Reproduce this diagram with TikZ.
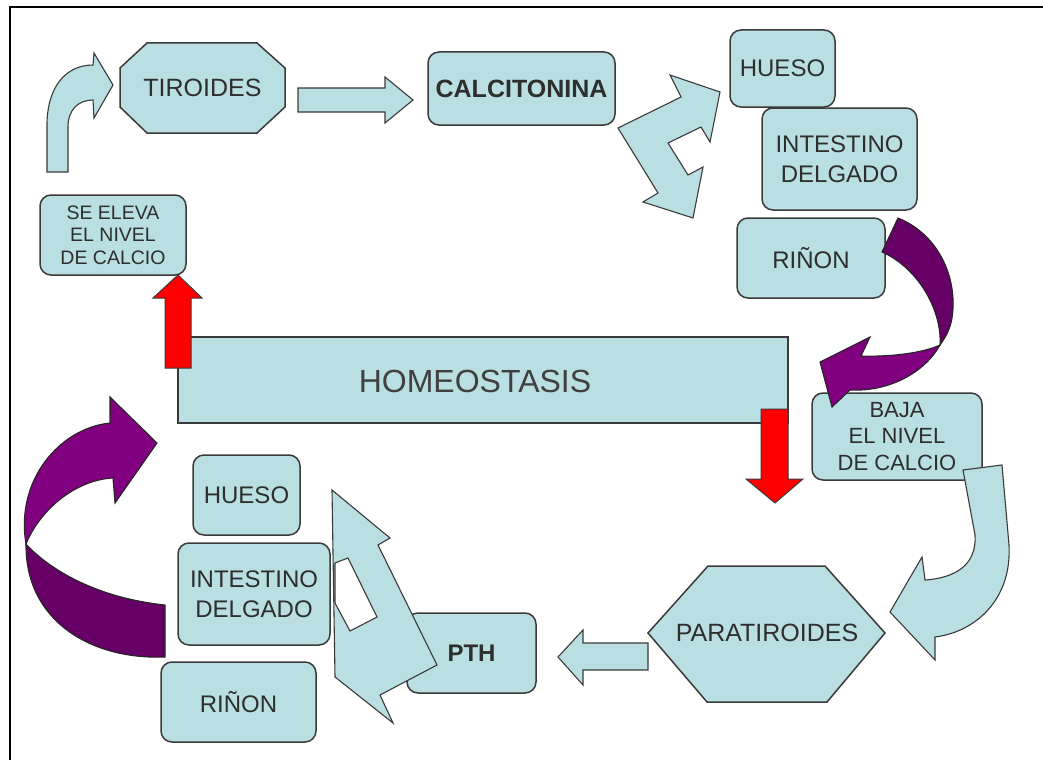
\documentclass[tikz,border=0pt]{standalone}
\usepackage{fontspec}
\setmainfont{Liberation Sans}
\definecolor{boxc}{HTML}{B9DFE3}
\definecolor{edgec}{HTML}{3A3A3A}
\definecolor{txtc}{HTML}{2E2E2E}
\definecolor{purl}{HTML}{800080}
\definecolor{purd}{HTML}{660066}
\definecolor{redc}{HTML}{FF0000}
\tikzset{
  box/.style={draw=edgec, line width=1.5pt, fill=boxc, rounded corners=11pt, text=txtc,
    align=center, inner sep=0pt, font=\fontsize{24}{30}\selectfont},
  blk/.style={draw=edgec, line width=1.1pt, fill=boxc, line join=miter},
  purA/.style={draw=black!85, line width=1.1pt, fill=purl},
  purB/.style={draw=black!85, line width=1.1pt, fill=purd},
  redar/.style={draw=edgec, line width=1pt, fill=redc},
  lbl/.style={text=txtc, align=center, inner sep=0pt, font=\fontsize{24}{30}\selectfont}
}
\begin{document}
\begin{tikzpicture}[x=1pt,y=-1pt]
\useasboundingbox (0,0) rectangle (1043,760);
% frame
\draw[line width=1.8pt, black] (10,760) -- (10,7) -- (1043,7);

% top-left bent arrow
\draw[blk] (47,172) -- (47,125) .. controls (47,88) and (65,65) .. (93,65) -- (94,53) -- (113,85)
  -- (94,118) -- (93,100) .. controls (78,100) and (68,110) .. (68,127) -- (68,172) -- cycle;

% TIROIDES octagon
\draw[blk, line width=1.5pt] (147,43) -- (257,43) -- (285,68) -- (285,107) -- (257,133)
  -- (147,133) -- (120,107) -- (120,68) -- cycle;
\node[lbl, font=\fontsize{25}{30}\selectfont] (tir) at (202.5,88) {TIROIDES};

% straight arrow to calcitonina
\draw[blk] (298,88) -- (385,88) -- (385,77) -- (413,100) -- (385,123) -- (385,112) -- (298,112) -- cycle;

\node[box, minimum width=187pt, minimum height=73pt, font=\bfseries\fontsize{25}{30}\selectfont] (calc) at (521.5,88.5) {CALCITONINA};

% zigzag double arrow
\draw[blk] (618,128) -- (681,97) -- (670,75) -- (720,92) -- (710,142) -- (701,127) -- (668,143)
  -- (688,175) -- (703,167) -- (693,218) -- (643,202) -- (658,193) -- cycle;

% top-right organ boxes
\node[box, minimum width=105pt, minimum height=77pt] (hue1) at (782.5,68.5) {HUESO};
\node[box, minimum width=155pt, minimum height=102pt] (int1) at (839.5,159) {INTESTINO\\DELGADO};
\node[box, minimum width=148pt, minimum height=80pt] (rin1) at (811,258) {RIÑON};

% SE ELEVA box
\node[box, minimum width=146pt, minimum height=80pt, font=\fontsize{19.5}{22.5}\selectfont] (seel) at (113,235) {SE ELEVA\\EL NIVEL\\DE CALCIO};

% BAJA box
\node[box, minimum width=170pt, minimum height=87pt, font=\fontsize{22}{26.5}\selectfont] (baja) at (897,436.5) {BAJA\\EL NIVEL\\DE CALCIO};

% purple arrow right (riñon -> baja)
\draw[purB] (882,252) -- (898,218) .. controls (940,235) and (958,280) .. (952,318)
  .. controls (950,330) and (945,338) .. (940,345) .. controls (942,310) and (918,268) .. (882,252) -- cycle;
\draw[purA] (940,345) .. controls (925,372) and (890,392) .. (850,390) -- (832,407) -- (820,362)
  -- (870,337) -- (861,356) .. controls (895,357) and (925,352) .. (940,345) -- cycle;

% HOMEOSTASIS
\node[draw=edgec, line width=1.5pt, fill=boxc, minimum width=610pt, minimum height=86pt, inner sep=0pt] (homeo) at (483,380) {};
\node[lbl, text=black!75, font=\fontsize{32}{36}\selectfont] (homeot) at (475,381) {HOMEOSTASIS};

% red arrows
\draw[redar] (165,368) -- (191,368) -- (191,298) -- (202,298) -- (178,275) -- (153,298) -- (165,298) -- cycle;
\draw[redar] (761,409) -- (788,409) -- (788,479) -- (803,479) -- (775,503) -- (746,479) -- (761,479) -- cycle;

% curved light-blue arrow baja -> paratiroides
\draw[blk] (963,470) -- (1002,465) -- (1009,545) .. controls (1012,600) and (975,632) .. (935,637)
  -- (935,660) -- (890,612) -- (922,557) -- (925,580) .. controls (955,578) and (977,565) .. (975,535) -- cycle;

% PARATIROIDES hexagon
\draw[blk, line width=1.5pt] (648,633) -- (708,566) -- (825,566) -- (885,633) -- (827,702) -- (707,702) -- cycle;
\node[lbl, font=\fontsize{25}{30}\selectfont] (para) at (767,633) {PARATIROIDES};

% arrow paratiroides -> PTH
\draw[blk] (648,643) -- (583,643) -- (583,630) -- (558,657) -- (583,685) -- (583,670) -- (648,670) -- cycle;

% PTH box
\node[box, minimum width=129pt, minimum height=80pt, font=\bfseries\fontsize{24}{30}\selectfont] (pth) at (471.5,653) {PTH};

% PTH up arrow with white notch
\draw[blk] (332,490) -- (390,538) -- (378,545) -- (437,665) -- (380,695) -- (393,723) -- (335,677) -- cycle;
\draw[draw=edgec, line width=1.1pt, fill=white] (335,563) -- (348,558) -- (377,617) -- (350,631) -- (335,603) -- cycle;

% bottom-left organ boxes
\node[box, minimum width=107pt, minimum height=80pt] (hue2) at (246.5,495) {HUESO};
\node[box, minimum width=152pt, minimum height=102pt] (int2) at (254,594) {INTESTINO\\DELGADO};
\node[box, minimum width=155pt, minimum height=80pt] (rin2) at (238.5,702) {RIÑON};

% purple arrow left
\draw[purB] (165,605) -- (165,657) .. controls (90,660) and (25,620) .. (26,544)
  .. controls (45,565) and (90,597) .. (165,605) -- cycle;
\draw[purA] (26,544) .. controls (15,480) and (60,428) .. (110,423) -- (110,397) -- (157,443)
  -- (115,503) -- (113,478) .. controls (75,480) and (40,510) .. (26,544) -- cycle;
\end{tikzpicture}
\end{document}
